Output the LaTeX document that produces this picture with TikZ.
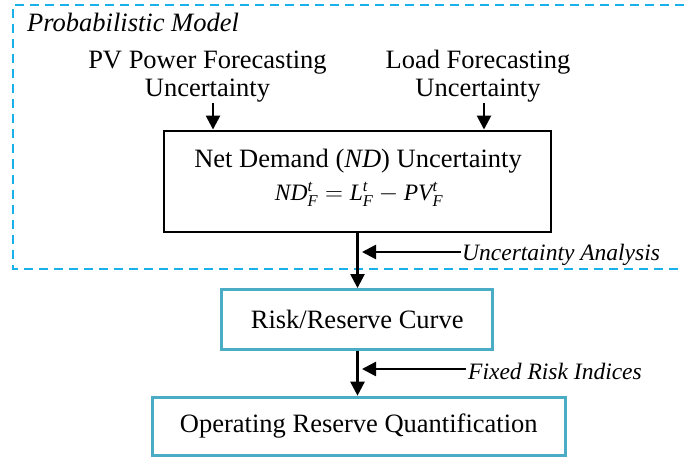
\documentclass[tikz,border=0pt]{standalone}
\usepackage{amsmath}
\usepackage{fontspec}
\setmainfont{Liberation Serif}
\usetikzlibrary{arrows.meta}
\definecolor{dashblue}{HTML}{1AB0EA}
\definecolor{boxblue}{HTML}{4BACC6}
\begin{document}
\begin{tikzpicture}[x=1pt,y=-1pt,
  txt/.style={font=\fontsize{26.5}{28.5}\selectfont, inner sep=0pt, align=center},
  lbl/.style={font=\fontsize{23.5}{26}\selectfont\itshape, inner sep=0pt, anchor=base west},
  blackbox/.style={draw=black, line width=2pt, inner sep=0pt},
  bluebox/.style={draw=boxblue, line width=3pt, inner sep=0pt, font=\fontsize{26.5}{30}\selectfont},
  arr/.style={line width=2.5pt, -{Triangle[length=14pt,width=14pt]}},
  region/.style={draw=dashblue, line width=2pt, dash pattern=on 9pt off 6pt}
]
\useasboundingbox (0,0) rectangle (684,457);
% dashed region
\draw[region] (684,5.5) -- (13,5.5) -- (13,268.5) -- (684,268.5);
\node[font=\fontsize{26.5}{30}\selectfont\itshape, inner sep=0pt, anchor=base west] (title) at (27,32) {Probabilistic Model};
% inputs
\node[txt, anchor=base] (pv) at (207.5,97) {PV Power Forecasting\\Uncertainty};
\node[txt, anchor=base] (load) at (478,97) {Load Forecasting\\Uncertainty};
% net demand box
\node[blackbox, minimum width=386.5pt, minimum height=101.5pt] (nd) at (357.3,181.3) {};
\node[font=\fontsize{26.5}{30}\selectfont, inner sep=0pt, anchor=base] (ndt) at (358,167.7) {Net Demand (\textit{ND}) Uncertainty};
\node[font=\fontsize{23.5}{26}\selectfont, inner sep=0pt, anchor=base] (ndf) at (359,200.7)
  {$\textit{ND}^{\textit{t}}_{\textit{F}} = \textit{L}^{\textit{t}}_{\textit{F}} - \textit{PV}^{\textit{t}}_{\textit{F}}$};
% lower boxes
\node[bluebox, minimum width=271pt, minimum height=59.5pt] (risk) at (357.2,319.3) {Risk/Reserve Curve};
\node[bluebox, minimum width=413pt, minimum height=58pt] (orq) at (358.8,426.2) {Operating Reserve Quantification};
% side labels
\node[lbl] (ua) at (462,260) {Uncertainty Analysis};
\node[lbl] (fri) at (468,379) {Fixed Risk Indices};
\coordinate (c1) at (213,103);
\coordinate (c2) at (484,103);
% arrows
\draw[arr] (c1) -- (c1 |- nd.north);
\draw[arr] (c2) -- (c2 |- nd.north);
\draw[arr] (nd.south -| 357.5,0) -- (risk.north -| 357.5,0);
\draw[arr] (risk.south -| 357.5,0) -- (orq.north -| 357.5,0);
\coordinate (ua1) at (461,252);
\coordinate (ua2) at (362,252);
\draw[arr] (ua1) -- (ua2);
\coordinate (fr1) at (466,369);
\coordinate (fr2) at (362,369);
\draw[arr] (fr1) -- (fr2);
\end{tikzpicture}
\end{document}
